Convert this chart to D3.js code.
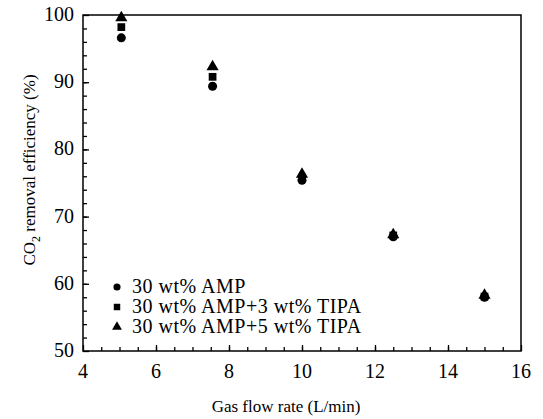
<!DOCTYPE html>
<html>
<head>
<meta charset="utf-8">
<script src="https://cdn.jsdelivr.net/npm/d3@7"></script>
<style>
  body { margin: 0; background: #fff; }
</style>
</head>
<body>
<script>
// gas flow rate (L/min)
var flowRates = [5.05, 7.55, 10, 12.5, 15];
// CO2 removal efficiency (%)
var amp = [96.6, 89.4, 75.4, 67.0, 58.0];
var amp3 = [98.2, 90.8, 75.8, 67.2, 58.1];
var amp5 = [99.6, 92.3, 76.3, 67.3, 58.3];
var seriesNames = ["30 wt% AMP", "30 wt% AMP+3 wt% TIPA", "30 wt% AMP+5 wt% TIPA"];
var xTicks = [4, 6, 8, 10, 12, 14, 16];
var yTicks = [50, 60, 70, 80, 90, 100];

var FONT = "'Liberation Serif'";

var W = 543, H = 419;
var margin = {top: 15, right: 22, bottom: 68, left: 83};
var width = W - margin.left - margin.right;
var height = H - margin.top - margin.bottom;

var svg = d3.select("body").append("svg")
  .attr("width", W).attr("height", H)
  .append("g")
  .attr("transform", "translate(" + margin.left + "," + margin.top + ")");

var x = d3.scaleLinear().domain([4, 16]).range([0, width]);
var y = d3.scaleLinear().domain([50, 100]).range([height, 0]);

// frame
svg.append("rect")
  .attr("width", width).attr("height", height)
  .attr("fill", "none").attr("stroke", "#000").attr("stroke-width", 1.5);

// minor ticks (inward)
svg.append("g")
  .attr("transform", "translate(0," + height + ")")
  .call(d3.axisBottom(x).tickValues(d3.range(4.5, 16, 0.5)).tickSize(-4).tickFormat(""))
  .call(function(g) { g.select(".domain").remove(); });
svg.append("g")
  .call(d3.axisLeft(y).tickValues(d3.range(52, 100, 2)).tickSize(-4).tickFormat(""))
  .call(function(g) { g.select(".domain").remove(); });

// major ticks, labels drawn as plain text below
var xAxis = svg.append("g")
  .attr("transform", "translate(0," + height + ")")
  .call(d3.axisBottom(x).tickValues(xTicks).tickSize(-6).tickFormat(""));
xAxis.select(".domain").remove();

var yAxis = svg.append("g")
  .call(d3.axisLeft(y).tickValues(yTicks).tickSize(-6).tickFormat(""));
yAxis.select(".domain").remove();

svg.selectAll(".tick line").attr("stroke-width", 1.3);

svg.selectAll(".xlab")
  .data(xTicks)
  .enter().append("text")
  .attr("class", "xlab")
  .attr("x", function(d) { return x(d); })
  .attr("y", height + 27)
  .attr("text-anchor", "middle")
  .style("font-family", FONT)
  .style("font-size", "20px")
  .text(function(d) { return d; });

svg.selectAll(".ylab")
  .data(yTicks)
  .enter().append("text")
  .attr("class", "ylab")
  .attr("x", -9)
  .attr("y", function(d) { return y(d) + 6; })
  .attr("text-anchor", "end")
  .style("font-family", FONT)
  .style("font-size", "20px")
  .text(function(d) { return d; });

// axis titles
svg.append("text")
  .attr("x", 203).attr("y", height + 61)
  .attr("text-anchor", "middle")
  .style("font-family", FONT)
  .style("font-size", "17px")
  .text("Gas flow rate (L/min)");

var yt = svg.append("text")
  .attr("transform", "translate(-48,155) rotate(-90)")
  .attr("text-anchor", "middle")
  .style("font-family", FONT)
  .style("font-size", "17px");
yt.append("tspan").text("CO");
yt.append("tspan").attr("dy", 5).style("font-size", "12px").text("2");
yt.append("tspan").attr("dy", -5).text(" removal efficiency (%)");

// markers
var sym = [d3.symbolCircle, d3.symbolSquare, d3.symbolTriangle];
var sizes = [64, 60, 64];
var series = [amp, amp3, amp5];

series.forEach(function(vals, i) {
  svg.selectAll(".pt" + i)
    .data(vals)
    .enter().append("path")
    .attr("class", "pt" + i)
    .attr("d", d3.symbol().type(sym[i]).size(sizes[i]))
    .attr("transform", function(d, j) { return "translate(" + x(flowRates[j]) + "," + y(d) + ")"; })
    .attr("fill", "#000");
});

// legend
var leg = svg.append("g").attr("transform", "translate(34,272)");
seriesNames.forEach(function(name, i) {
  var row = leg.append("g").attr("transform", "translate(0," + (i * 20) + ")");
  row.append("path")
    .attr("d", d3.symbol().type(sym[i]).size(i === 0 ? 40 : 42))
    .attr("fill", "#000");
  row.append("text")
    .attr("x", 15).attr("y", 6)
    .style("font-family", FONT)
    .style("font-size", "20px")
    .style("letter-spacing", "0.5px")
    .text(name);
});
</script>
</body>
</html>
